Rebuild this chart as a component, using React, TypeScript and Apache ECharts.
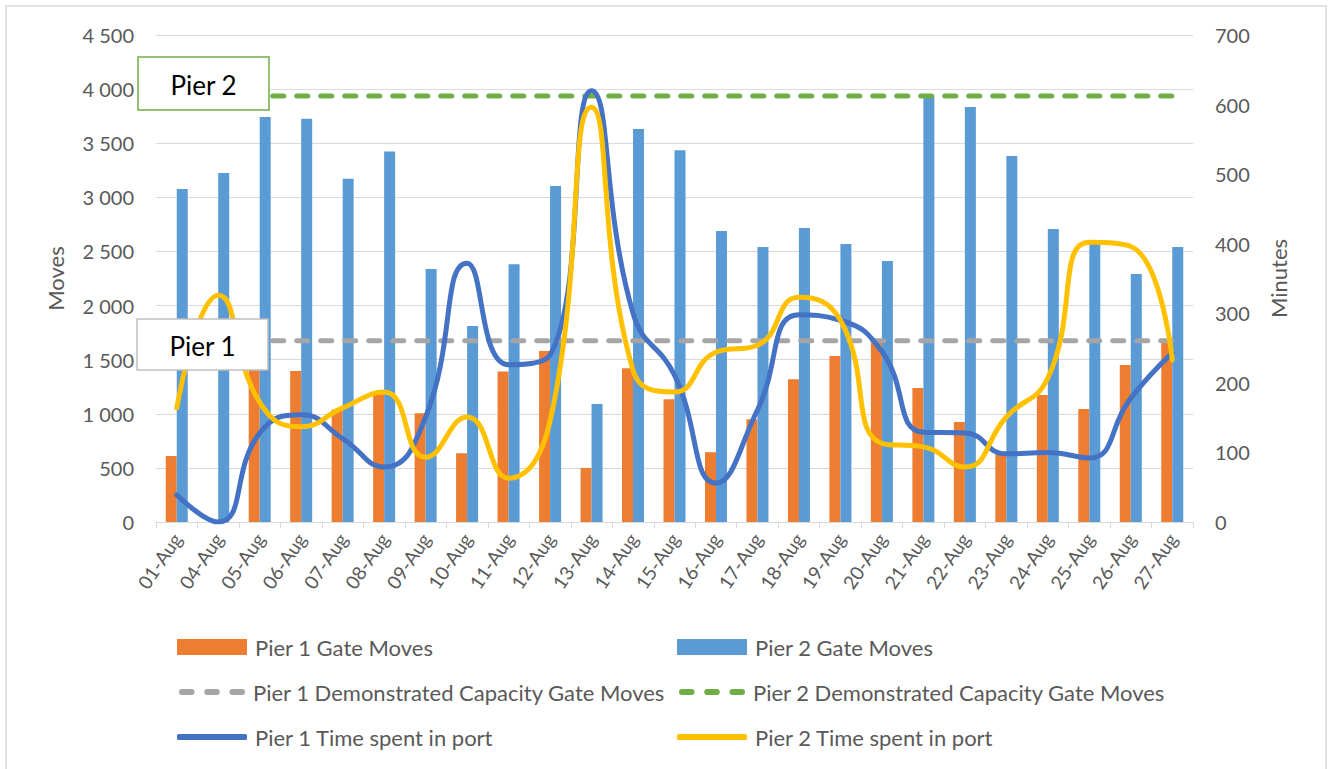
import React, { useEffect, useRef } from "react";
import * as echarts from "echarts";

const categories = ["01-Aug","04-Aug","05-Aug","06-Aug","07-Aug","08-Aug","09-Aug","10-Aug","11-Aug","12-Aug","13-Aug","14-Aug","15-Aug","16-Aug","17-Aug","18-Aug","19-Aug","20-Aug","21-Aug","22-Aug","23-Aug","24-Aug","25-Aug","26-Aug","27-Aug"];
const pier1GateMoves = [610,0,1405,1395,1040,1180,1005,635,1390,1580,500,1420,1135,645,950,1320,1535,1655,1238,924,640,1174,1044,1451,1660];
const pier2GateMoves = [3077,3225,3743,3725,3172,3424,2338,1811,2382,3105,1090,3632,3434,2690,2541,2717,2569,2412,3935,3835,3383,2708,2569,2292,2541];
const pier1Capacity = 1675;
const pier2Capacity = 3937;
const pier1Time = [39,0,128,154,120,79,151,372,226,240,620,300,211,56,161,298,290,245,129,128,98,100,92,178,243];
const pier2Time = [164,326,172,137,164,187,93,151,63,145,596,218,187,244,254,323,290,113,108,79,151,207,402,396,233];
const leftTicks = { min: 0, max: 4500, interval: 500 };
const rightTicks = { min: 0, max: 700, interval: 100 };

const FONT = "Lato";
const GREY = "#595959";
const DASH_ICON = "path://M3,0h10a3,3 0 0 1 0,6h-10a3,3 0 0 1 0,-6z M29,0h10a3,3 0 0 1 0,6h-10a3,3 0 0 1 0,-6z M55,0h10a3,3 0 0 1 0,6h-10a3,3 0 0 1 0,-6z";

function fmt(v: number) {
  const s = String(Math.round(v));
  return s.replace(/\B(?=(\d{3})+(?!\d))/g, " ");
}

export default function App() {
  const ref = useRef<HTMLDivElement>(null);
  useEffect(() => {
    document.body.style.margin = "0";
    const chart = echarts.init(ref.current!, null, { renderer: "svg" });
    const legendBase = {
      orient: "horizontal" as const,
      padding: 0,
      itemWidth: 70,
      itemHeight: 16,
      textStyle: { fontFamily: FONT, fontSize: 22, color: GREY, padding: [0, 0, 0, 3] },
      selectedMode: false,
    };
    const option: any = {
      animation: false,
      textStyle: { fontFamily: FONT },
      grid: { left: 156, right: 136, top: 35, bottom: 247, containLabel: false },
      legend: [
        { ...legendBase, data: [{ name: "Pier 1 Gate Moves", icon: "rect" }], left: 177, top: 636 },
        { ...legendBase, data: [{ name: "Pier 2 Gate Moves", icon: "rect" }], left: 677, top: 636 },
        { ...legendBase, itemWidth: 66, itemHeight: 6, data: [{ name: "Pier 1 Demonstrated Capacity Gate Moves", icon: DASH_ICON }], left: 179, top: 681 },
        { ...legendBase, itemWidth: 66, itemHeight: 6, data: [{ name: "Pier 2 Demonstrated Capacity Gate Moves", icon: DASH_ICON }], left: 679, top: 681 },
        { ...legendBase, itemHeight: 6, data: [{ name: "Pier 1 Time spent in port", icon: "roundRect" }], left: 177, top: 726 },
        { ...legendBase, itemHeight: 6, data: [{ name: "Pier 2 Time spent in port", icon: "roundRect" }], left: 677, top: 726 },
      ],
      xAxis: {
        type: "category",
        data: categories,
        boundaryGap: true,
        axisLine: { lineStyle: { color: "#D9D9D9", width: 1 } },
        axisTick: { show: true, length: 6, lineStyle: { color: "#D9D9D9" } },
        axisLabel: { rotate: 56, fontFamily: FONT, fontSize: 19, color: GREY, margin: 13, interval: 0 },
      },
      yAxis: [
        {
          type: "value",
          ...leftTicks,
          name: "Moves",
          nameLocation: "middle",
          nameGap: 90,
          nameRotate: 90,
          nameTextStyle: { fontFamily: FONT, fontSize: 22, color: GREY },
          axisLine: { show: false },
          axisTick: { show: false },
          splitLine: { lineStyle: { color: "#D9D9D9", width: 1 } },
          axisLabel: { formatter: fmt, fontFamily: FONT, fontSize: 20, color: GREY, margin: 22 },
        },
        {
          type: "value",
          ...rightTicks,
          name: "Minutes",
          nameLocation: "middle",
          nameGap: 74,
          nameRotate: 90,
          nameTextStyle: { fontFamily: FONT, fontSize: 22, color: GREY },
          axisLine: { show: false },
          axisTick: { show: false },
          splitLine: { show: false },
          axisLabel: { fontFamily: FONT, fontSize: 20, color: GREY, margin: 22 },
        },
      ],
      series: [
        {
          name: "Pier 1 Gate Moves",
          type: "bar",
          data: pier1GateMoves,
          barWidth: 11,
          barGap: "0%",
          itemStyle: { color: "#ED7D31" },
        },
        {
          name: "Pier 2 Gate Moves",
          type: "bar",
          data: pier2GateMoves,
          barWidth: 11,
          barGap: "0%",
          itemStyle: { color: "#5B9BD5" },
        },
        {
          name: "Pier 1 Demonstrated Capacity Gate Moves",
          type: "line",
          data: categories.map(() => pier1Capacity),
          symbol: "none",
          lineStyle: { color: "#A5A5A5", width: 5, type: [11, 13], cap: "round" },
          itemStyle: { color: "#A5A5A5" },
        },
        {
          name: "Pier 2 Demonstrated Capacity Gate Moves",
          type: "line",
          data: categories.map(() => pier2Capacity),
          symbol: "none",
          lineStyle: { color: "#70AD47", width: 5, type: [11, 13], cap: "round" },
          itemStyle: { color: "#70AD47" },
        },
        {
          name: "Pier 1 Time spent in port",
          type: "line",
          yAxisIndex: 1,
          data: pier1Time,
          smooth: 0.5,
          symbol: "none",
          lineStyle: { color: "#4472C4", width: 5, cap: "round" },
          itemStyle: { color: "#4472C4" },
        },
        {
          name: "Pier 2 Time spent in port",
          type: "line",
          yAxisIndex: 1,
          data: pier2Time,
          smooth: 0.5,
          symbol: "none",
          lineStyle: { color: "#FFC000", width: 5, cap: "round" },
          itemStyle: { color: "#FFC000" },
        },
      ],
      graphic: [
        {
          type: "rect",
          z: 0,
          silent: true,
          shape: { x: 6, y: 6, width: 1320, height: 775 },
          style: { fill: "none", stroke: "#D9D9D9", lineWidth: 1.5 },
        },
        {
          type: "group",
          z: 100,
          children: [
            {
              type: "rect",
              shape: { x: 138, y: 57, width: 131, height: 53 },
              style: { fill: "#FFFFFF", stroke: "#70AD47", lineWidth: 1.5 },
              z: 100,
            },
            {
              type: "text",
              x: 203.5,
              y: 85,
              z: 101,
              style: { text: "Pier 2", fontFamily: FONT, fontSize: 26, fill: "#000000", align: "center", verticalAlign: "middle" },
            },
            {
              type: "rect",
              shape: { x: 137, y: 319, width: 131, height: 51 },
              style: { fill: "#FFFFFF", stroke: "#BFBFBF", lineWidth: 1.5 },
              z: 100,
            },
            {
              type: "text",
              x: 202.5,
              y: 346,
              z: 101,
              style: { text: "Pier 1", fontFamily: FONT, fontSize: 26, fill: "#000000", align: "center", verticalAlign: "middle" },
            },
          ],
        },
      ],
    };
    chart.setOption(option);
    return () => chart.dispose();
  }, []);
  return <div ref={ref} style={{ width: 1329, height: 769 }} />;
}
